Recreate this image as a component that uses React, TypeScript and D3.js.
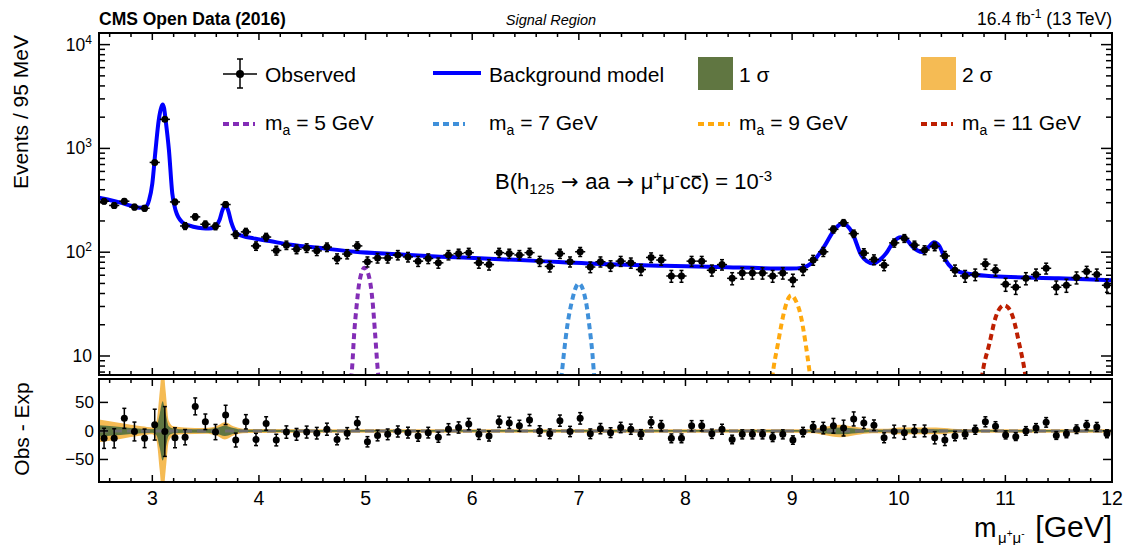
import React, { useLayoutEffect, useRef, useState } from 'react';
import * as d3 from 'd3';

// ---------------- DATA ----------------
const X_MIN = 2.5;
const X_MAX = 12;
const BIN_WIDTH = 0.095;

const observed = [
  310, 282, 310, 272, 265, 733, 1906, 305, 179, 219,
  186, 178, 288, 148, 157, 115, 140, 104, 117, 107,
  110, 103, 112, 87, 96, 115, 81, 88, 88, 94,
  90, 82, 87, 79, 94, 97, 99, 79, 76, 99,
  97, 94, 99, 82, 73, 97, 81, 101, 72, 81,
  74, 82, 79, 68, 89, 84, 59, 59, 82, 82,
  67, 76, 56, 63, 63, 63, 59, 63, 54, 68,
  84, 101, 166, 192, 151, 98, 85, 75, 123, 136,
  117, 105, 114, 92, 67, 59, 61, 77, 67, 49,
  46, 56, 61, 70, 46, 48, 57, 65, 61, 48,
];

const residuals = [
  -13, -13, 22, -1, -13, 11, -1, -12, -11, 43,
  16, -2, 28, -16, 16, -15, 13, -16, -2, -6,
  -2, -4, 3, -15, -4, 14, -19, -8, -6, -1,
  -3, -9, -3, -11, 3, 6, 12, -6, -9, 16,
  14, 9, 19, 0, -5, 18, -1, 22, -5, 4,
  -3, 6, 3, -6, 15, 9, -13, -13, 9, 9,
  -5, 3, -15, -6, -6, -6, -11, -6, -16, -2,
  7, 5, 9, 5, 21, 14, 10, -12, -1, -3,
  0, 0, -12, -16, -9, -6, 2, 16, 8, -7,
  -10, 0, 5, 15, -8, -5, 3, 10, 7, -5,
];

// background model, sampled off the curve
const bkgX = [
  2.5, 2.6, 2.7, 2.8, 2.88, 2.94, 2.97, 3.0, 3.03, 3.06, 3.085, 3.097, 3.11, 3.125,
  3.156, 3.187, 3.22, 3.28, 3.35, 3.43, 3.5, 3.56, 3.6, 3.63, 3.66, 3.685, 3.71,
  3.74, 3.79, 3.85, 3.95, 4.1, 4.3, 4.6, 4.9, 5.3, 5.7, 6.07, 6.6, 7.29, 7.8, 8.3,
  8.99, 9.1, 9.18, 9.3, 9.4, 9.47, 9.56, 9.65, 9.7, 9.76, 9.82, 9.88, 9.95, 10.02,
  10.08, 10.13, 10.22, 10.28, 10.33, 10.38, 10.44, 10.5, 10.57, 10.7, 10.88, 11.5, 12,
];
const bkgY = [
  335, 318, 300, 280, 268, 275, 318, 460, 960, 1870, 2500, 2650, 2450, 1870,
  960, 370, 250, 195, 180, 172, 169, 170, 180, 204, 258, 282, 255,
  195, 152, 143, 136, 128, 118, 109, 101, 95.5, 90.5, 87.5, 82.5, 76.6, 74, 72,
  69.6, 71, 78, 113, 166, 189, 157, 93, 82, 77.8, 84, 97, 125, 139,
  130, 113, 100.7, 112, 125, 115, 83.7, 70, 64.6, 61, 58.7, 56, 53.6,
];

// signal templates (B = 1e-3), sampled off the dashed curves
const sig5X = [4.8, 4.874, 4.893, 4.915, 4.94, 4.99, 5.033, 5.065, 5.087, 5.112, 5.18];
const sig5Y = [2.5, 7.8, 16.4, 29.7, 50, 71, 57.8, 34, 17.7, 7.8, 2.5];
const sig7X = [6.78, 6.84, 6.86, 6.89, 6.93, 7.0, 7.065, 7.1, 7.127, 7.142, 7.2];
const sig7Y = [2.5, 6.8, 10.6, 19, 32, 50, 34, 19, 10.6, 6.8, 2.5];
const sig9X = [8.77, 8.827, 8.867, 8.914, 8.95, 8.992, 9.035, 9.077, 9.127, 9.158, 9.22];
const sig9Y = [2.5, 7.8, 13.1, 23.8, 33, 38.5, 34, 25.6, 13.1, 7.8, 2.5];
const sig11X = [10.73, 10.79, 10.85, 10.91, 10.95, 10.99, 11.03, 11.07, 11.13, 11.18, 11.24];
const sig11Y = [2.5, 7.3, 13.1, 23.8, 29, 30.8, 29, 23.8, 13.1, 7.3, 2.5];

// uncertainty bands in the residual panel (half widths)
const bandX = [
  2.5, 2.7, 2.9, 3.0, 3.04, 3.07, 3.097, 3.125, 3.155, 3.2, 3.3, 3.5, 3.6, 3.68, 3.76,
  3.85, 4.0, 5.0, 6.0, 7.0, 8.0, 9.0, 9.2, 9.3, 9.45, 9.6, 9.75, 9.9, 10.0, 10.2,
  10.35, 10.5, 10.7, 11.0, 12.0,
];
const band1 = [
  10, 7, 4, 3, 8, 30, 52, 30, 8, 4, 3, 3, 5, 9, 5,
  2, 2, 1.5, 1.5, 1.5, 1.5, 1.5, 2, 4, 6, 4, 2, 2, 3, 3,
  3, 2, 1.5, 1.5, 1.5,
];
const band2 = [
  20, 14, 8, 6, 18, 70, 120, 70, 18, 8, 6, 5, 8, 15, 8,
  4, 3.5, 3, 3, 3, 3, 3, 4, 7, 11, 7, 4, 4, 6, 6,
  6, 4, 3, 3, 3,
];

const xTicks = [3, 4, 5, 6, 7, 8, 9, 10, 11, 12];
const yDecades = [10, 100, 1000, 10000];
const resTicks = [-50, 0, 50];

const signals = [
  { label: '5', xs: sig5X, ys: sig5Y, color: '#832db6' },
  { label: '7', xs: sig7X, ys: sig7Y, color: '#3f90da' },
  { label: '9', xs: sig9X, ys: sig9Y, color: '#ffa90e' },
  { label: '11', xs: sig11X, ys: sig11Y, color: '#bd1f01' },
];

// ---------------- LAYOUT ----------------
const W = 1126;
const H = 545;
const L = 99;
const R = 1112;
const T1 = 33;
const B1 = 375;
const T2 = 379;
const B2 = 482;
const FONT = "'Liberation Sans', Arial, Helvetica, sans-serif";
const ARROW_FONT = "'DejaVu Sans', sans-serif";

const BLUE = '#0000ff';
const GREEN = '#607641';
const YELLOW = '#f5bb54';

export default function App() {
  const x = d3.scaleLinear().domain([X_MIN, X_MAX]).range([L, R]);
  const y = d3.scaleLog().domain([6.56, 12940]).range([B1, T1]);
  const yr = d3.scaleLinear().domain([-89.5, 91]).range([B2, T2]);

  const barRef = useRef<SVGTSpanElement | null>(null);
  const [bar, setBar] = useState<{ x1: number; x2: number; y: number } | null>(null);
  useLayoutEffect(() => {
    const el = barRef.current as any;
    if (el && el.getBBox) {
      const b = el.getBBox();
      setBar({ x1: b.x + 1, x2: b.x + b.width - 1, y: b.y + b.height * 0.3 });
    }
  }, []);

  const centers = observed.map((_, i) => X_MIN + BIN_WIDTH * (i + 0.5));

  const bkgLine = d3
    .line<number>()
    .x((_, i) => x(bkgX[i]))
    .y((d) => y(d))
    .curve(d3.curveMonotoneX)(bkgY) as string;

  const sigPath = (xs: number[], ys: number[]) =>
    d3
      .line<number>()
      .x((_, i) => x(xs[i]))
      .y((d) => y(d))
      .curve(d3.curveMonotoneX)(ys) as string;

  const bandArea = (w: number[]) =>
    d3
      .area<number>()
      .x((_, i) => x(bandX[i]))
      .y0((d) => yr(-d))
      .y1((d) => yr(d))
      .curve(d3.curveMonotoneX)(w) as string;

  const minorX: number[] = [];
  for (let k = 13; k <= 60; k++) {
    if (k % 5 !== 0) minorX.push(k / 5);
  }
  const minorY: number[] = [];
  for (let d = 0; d <= 4; d++) {
    for (let m = 2; m <= 9; m++) {
      const v = m * Math.pow(10, d);
      if (v > 6.56 && v < 12940) minorY.push(v);
    }
  }

  const tickStroke = { stroke: '#000', strokeWidth: 1.5 };

  return (
    <svg
      width={W}
      height={H}
      style={{ position: 'absolute', left: 0, top: 0, background: '#fff' }}
      fontFamily={FONT}
    >
      <defs>
        <clipPath id="mainClip">
          <rect x={L} y={T1} width={R - L} height={B1 - T1} />
        </clipPath>
        <clipPath id="resClip">
          <rect x={L} y={T2} width={R - L} height={B2 - T2} />
        </clipPath>
      </defs>
      <rect x={0} y={0} width={W} height={H} fill="#fff" />

      {/* header */}
      <text x={L} y={25} fontSize={17.5} fontWeight="bold">CMS Open Data (2016)</text>
      <text x={551} y={25} fontSize={14.5} fontStyle="italic" textAnchor="middle">Signal Region</text>
      <text x={R} y={25} fontSize={17.5} textAnchor="end">
        16.4 fb<tspan dy={-7} fontSize={12}>-1</tspan>
        <tspan dy={7}> (13 TeV)</tspan>
      </text>

      {/* ---------- main panel ---------- */}
      <g clipPath="url(#mainClip)">
        {signals.map((s) => (
          <path
            key={s.label}
            d={sigPath(s.xs, s.ys)}
            fill="none"
            stroke={s.color}
            strokeWidth={4}
            strokeDasharray="6 4"
          />
        ))}
        <path d={bkgLine} fill="none" stroke={BLUE} strokeWidth={4} />
        {observed.map((n, i) => {
          const c = centers[i];
          const e = Math.sqrt(n);
          const cx = x(c);
          const cy = y(n);
          const yt = y(n + e);
          const yb = y(n - e);
          return (
            <g key={i} stroke="#000" strokeWidth={1.5}>
              <line x1={x(c - BIN_WIDTH / 2)} x2={x(c + BIN_WIDTH / 2)} y1={cy} y2={cy} />
              <line x1={cx} x2={cx} y1={yt} y2={yb} />
              <line x1={cx - 2} x2={cx + 2} y1={yt} y2={yt} />
              <line x1={cx - 2} x2={cx + 2} y1={yb} y2={yb} />
              <circle cx={cx} cy={cy} r={3.5} fill="#000" stroke="none" />
            </g>
          );
        })}
      </g>

      {/* main frame and ticks */}
      <rect x={L} y={T1} width={R - L} height={B1 - T1} fill="none" stroke="#000" strokeWidth={2} />
      {xTicks.map((t) => (
        <g key={'mx' + t} {...tickStroke}>
          <line x1={x(t)} x2={x(t)} y1={B1} y2={B1 - 7} />
          <line x1={x(t)} x2={x(t)} y1={T1} y2={T1 + 7} />
        </g>
      ))}
      {minorX.map((t) => (
        <g key={'mmx' + t} {...tickStroke}>
          <line x1={x(t)} x2={x(t)} y1={B1} y2={B1 - 4} />
          <line x1={x(t)} x2={x(t)} y1={T1} y2={T1 + 4} />
        </g>
      ))}
      {yDecades.map((t) => (
        <g key={'my' + t} {...tickStroke}>
          <line x1={L} x2={L + 11} y1={y(t)} y2={y(t)} />
          <line x1={R} x2={R - 11} y1={y(t)} y2={y(t)} />
        </g>
      ))}
      {minorY.map((t) => (
        <g key={'mmy' + t} {...tickStroke}>
          <line x1={L} x2={L + 6} y1={y(t)} y2={y(t)} />
          <line x1={R} x2={R - 6} y1={y(t)} y2={y(t)} />
        </g>
      ))}
      {yDecades.map((t) => {
        const p = Math.round(Math.log10(t));
        return (
          <text key={'yl' + t} x={92} y={y(t) + 6} fontSize={17.5} textAnchor="end">
            10
            {p > 1 ? (
              <tspan dy={-7} fontSize={12}>
                {p}
              </tspan>
            ) : null}
          </text>
        );
      })}
      <text transform={`translate(28, ${T1 + 2}) rotate(-90)`} fontSize={21} textAnchor="end">
        Events / 95 MeV
      </text>

      {/* legend */}
      <g stroke="#000" strokeWidth={1.5}>
        <line x1={223} x2={257} y1={74} y2={74} />
        <line x1={240} x2={240} y1={59} y2={88} />
        <line x1={237} x2={243} y1={59} y2={59} />
        <line x1={237} x2={243} y1={88} y2={88} />
      </g>
      <circle cx={240} cy={74} r={4} fill="#000" />
      <text x={265} y={82} fontSize={21}>Observed</text>

      <line x1={433} x2={481} y1={73} y2={73} stroke={BLUE} strokeWidth={4} />
      <text x={489} y={82} fontSize={21}>Background model</text>

      <rect x={698} y={57} width={35} height={33} fill={GREEN} />
      <text x={739} y={82} fontSize={21}>1 σ</text>
      <rect x={921} y={57} width={35} height={33} fill={YELLOW} />
      <text x={962} y={82} fontSize={21}>2 σ</text>

      {signals.map((s, i) => {
        const lx = [223, 433, 698, 921][i];
        const tx = [265, 489, 739, 962][i];
        return (
          <g key={'leg' + s.label}>
            <line
              x1={lx}
              x2={lx + 32}
              y1={124}
              y2={124}
              stroke={s.color}
              strokeWidth={4}
              strokeDasharray="6 4"
            />
            <text x={tx} y={130} fontSize={21}>
              m<tspan dy={5} fontSize={14}>a</tspan>
              <tspan dy={-5}>{` = ${s.label} GeV`}</tspan>
            </text>
          </g>
        );
      })}

      <text x={495} y={189} fontSize={22}>
        B(h<tspan dy={5} fontSize={15}>125</tspan>
        <tspan dy={-5} fontFamily={ARROW_FONT} fontSize={21}> → </tspan>
        <tspan>aa</tspan>
        <tspan fontFamily={ARROW_FONT} fontSize={21}> → </tspan>
        <tspan>μ</tspan>
        <tspan dy={-8} fontSize={15}>+</tspan>
        <tspan dy={8}>μ</tspan>
        <tspan dy={-8} fontSize={15}>-</tspan>
        <tspan dy={8}>c</tspan>
        <tspan ref={barRef}>c</tspan>
        <tspan>) = 10</tspan>
        <tspan dy={-8} fontSize={15}>-3</tspan>
      </text>
      {bar ? (
        <line x1={bar.x1} x2={bar.x2} y1={bar.y} y2={bar.y} stroke="#000" strokeWidth={1.5} />
      ) : null}

      {/* ---------- residual panel ---------- */}
      <g clipPath="url(#resClip)">
        <path d={bandArea(band2)} fill={YELLOW} />
        <path d={bandArea(band1)} fill={GREEN} />
        <line x1={L} x2={R} y1={yr(0)} y2={yr(0)} stroke="#6e6e6e" strokeWidth={3} strokeDasharray="9 5" />
        {residuals.map((r, i) => {
          const e = Math.sqrt(observed[i]);
          const cx = x(centers[i]);
          const yt = yr(r + e);
          const yb = yr(r - e);
          return (
            <g key={'r' + i} stroke="#000" strokeWidth={1.5}>
              <line x1={cx} x2={cx} y1={yt} y2={yb} />
              <line x1={cx - 2} x2={cx + 2} y1={yt} y2={yt} />
              <line x1={cx - 2} x2={cx + 2} y1={yb} y2={yb} />
              <circle cx={cx} cy={yr(r)} r={3.5} fill="#000" stroke="none" />
            </g>
          );
        })}
      </g>
      <rect x={L} y={T2} width={R - L} height={B2 - T2} fill="none" stroke="#000" strokeWidth={2} />
      {xTicks.map((t) => (
        <g key={'rx' + t} {...tickStroke}>
          <line x1={x(t)} x2={x(t)} y1={B2} y2={B2 - 7} />
          <line x1={x(t)} x2={x(t)} y1={T2} y2={T2 + 7} />
        </g>
      ))}
      {minorX.map((t) => (
        <g key={'rmx' + t} {...tickStroke}>
          <line x1={x(t)} x2={x(t)} y1={B2} y2={B2 - 4} />
          <line x1={x(t)} x2={x(t)} y1={T2} y2={T2 + 4} />
        </g>
      ))}
      {resTicks.map((t) => (
        <g key={'ry' + t} {...tickStroke}>
          <line x1={L} x2={L + 9} y1={yr(t)} y2={yr(t)} />
          <line x1={R} x2={R - 9} y1={yr(t)} y2={yr(t)} />
        </g>
      ))}
      {resTicks.map((t) => (
        <text key={'ryl' + t} x={94} y={yr(t) + 6} fontSize={17} textAnchor="end">
          {t < 0 ? `−${-t}` : `${t}`}
        </text>
      ))}
      <text transform={`translate(29, 429) rotate(-90)`} fontSize={21} textAnchor="middle">
        Obs - Exp
      </text>

      {xTicks.map((t) => (
        <text key={'xl' + t} x={x(t)} y={505} fontSize={19.5} textAnchor="middle">
          {t}
        </text>
      ))}

      {/* x-axis title */}
      <text x={974} y={537} fontSize={27}>m</text>
      <text x={998} y={543} fontSize={15}>
        μ<tspan dy={-6} fontSize={10}>+</tspan>
        <tspan dy={6}>μ</tspan>
        <tspan dy={-6} fontSize={10}>-</tspan>
      </text>
      <text x={R} y={537} fontSize={30} textAnchor="end">[GeV]</text>
    </svg>
  );
}
